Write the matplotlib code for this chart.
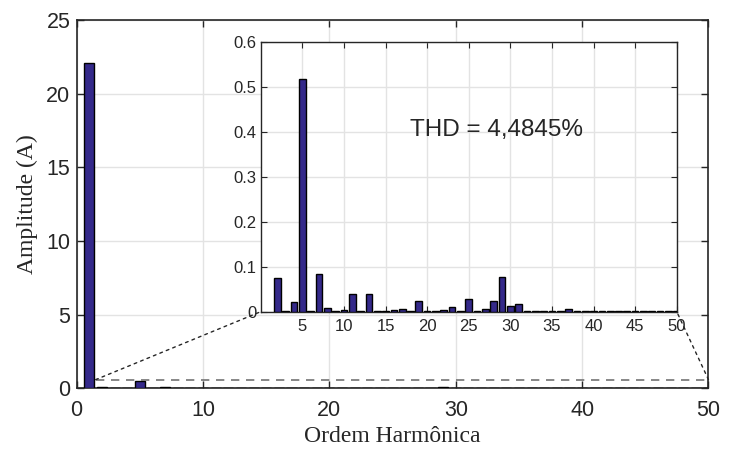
import matplotlib
matplotlib.use("Agg")
import matplotlib.pyplot as plt
from matplotlib.patches import ConnectionPatch

# Harmonic spectrum of the current
harmonics = list(range(1, 51))
amplitudes = [
    22.1, 0.074, 0.001, 0.021, 0.518, 0.001, 0.083, 0.009, 0.001, 0.004,
    0.039, 0.001, 0.040, 0.001, 0.001, 0.003, 0.005, 0.001, 0.024, 0.002,
    0.001, 0.003, 0.011, 0.002, 0.029, 0.001, 0.005, 0.024, 0.078, 0.013,
    0.017, 0.002, 0.002, 0.002, 0.001, 0.001, 0.005, 0.001, 0.001, 0.001,
    0.002, 0.002, 0.002, 0.001, 0.001, 0.002, 0.002, 0.001, 0.001, 0.001,
]
thd_text = "THD = 4,4845%"

main_xticks = [0, 10, 20, 30, 40, 50]
main_yticks = [0, 5, 10, 15, 20, 25]
inset_xticks = [5, 10, 15, 20, 25, 30, 35, 40, 45, 50]
inset_yticks = [0, 0.1, 0.2, 0.3, 0.4, 0.5, 0.6]
inset_yticklabels = ["0", "0.1", "0.2", "0.3", "0.4", "0.5", "0.6"]
zoom_x0, zoom_x1, zoom_ymax = 1.5, 50, 0.6

bar_color = "#34298a"
text_color = "#262626"
grid_color = "#e3e3e3"

plt.rcParams["font.family"] = ["Liberation Sans", "DejaVu Sans"]

fig = plt.figure(figsize=(7.38, 4.57), dpi=100)
ax = fig.add_axes([0.1039, 0.1499, 0.8561, 0.8063])

ax.bar(harmonics, amplitudes, width=0.8, color=bar_color,
       edgecolor="black", linewidth=1.0, zorder=3)
ax.set_xlim(0, 50)
ax.set_ylim(0, 25)
ax.set_xticks(main_xticks)
ax.set_yticks(main_yticks)
ax.grid(True, color=grid_color, linewidth=1.0, zorder=0)
ax.set_axisbelow(True)
ax.tick_params(direction="in", top=True, right=True, length=5, width=1.0,
               labelsize=15.5, colors=text_color)
ax.tick_params(axis="x", pad=8)
ax.tick_params(axis="y", pad=4.5)
for s in ax.spines.values():
    s.set_color(text_color)
    s.set_linewidth(1.2)
ax.set_xlabel("Ordem Harmônica", family=["Liberation Serif", "DejaVu Serif"],
              fontsize=17, color=text_color, labelpad=4)
ax.set_ylabel("Amplitude (A)", family=["Liberation Serif", "DejaVu Serif"],
              fontsize=17, color=text_color, labelpad=6)

# zoom region marker
ax.plot([zoom_x0, zoom_x1], [zoom_ymax, zoom_ymax], color="0.45",
        linewidth=1.2, dashes=(5, 4), zorder=4)

# inset with the harmonics above the fundamental
axi = fig.add_axes([0.3533, 0.318, 0.5637, 0.5895])
axi.bar(harmonics[1:], amplitudes[1:], width=0.8, color=bar_color,
        edgecolor="black", linewidth=1.0, zorder=3)
axi.set_xlim(0, 50)
axi.set_ylim(0, 0.6)
axi.set_xticks(inset_xticks)
axi.set_yticks(inset_yticks)
axi.set_yticklabels(inset_yticklabels)
axi.grid(True, color=grid_color, linewidth=1.0, zorder=0)
axi.set_axisbelow(True)
axi.tick_params(direction="in", top=True, right=True, length=4, width=0.8,
                labelsize=12, colors=text_color)
axi.tick_params(axis="x", pad=5)
axi.tick_params(axis="y", pad=3)
for s in axi.spines.values():
    s.set_color(text_color)
    s.set_linewidth(1.0)
axi.text(17.9, 0.405, thd_text, fontsize=17.5, color=text_color,
         ha="left", va="center")

# connectors between the zoom marker and the inset
for xd, xa in [(zoom_x0, 0.0), (zoom_x1, 1.0)]:
    con = ConnectionPatch(xyA=(xd, zoom_ymax), coordsA=ax.transData,
                          xyB=(xa, 0.0), coordsB=axi.transAxes,
                          color="0.15", linewidth=1.0,
                          linestyle=(0, (2, 3)), zorder=5)
    fig.add_artist(con)

fig.savefig("out.png", dpi=100)
